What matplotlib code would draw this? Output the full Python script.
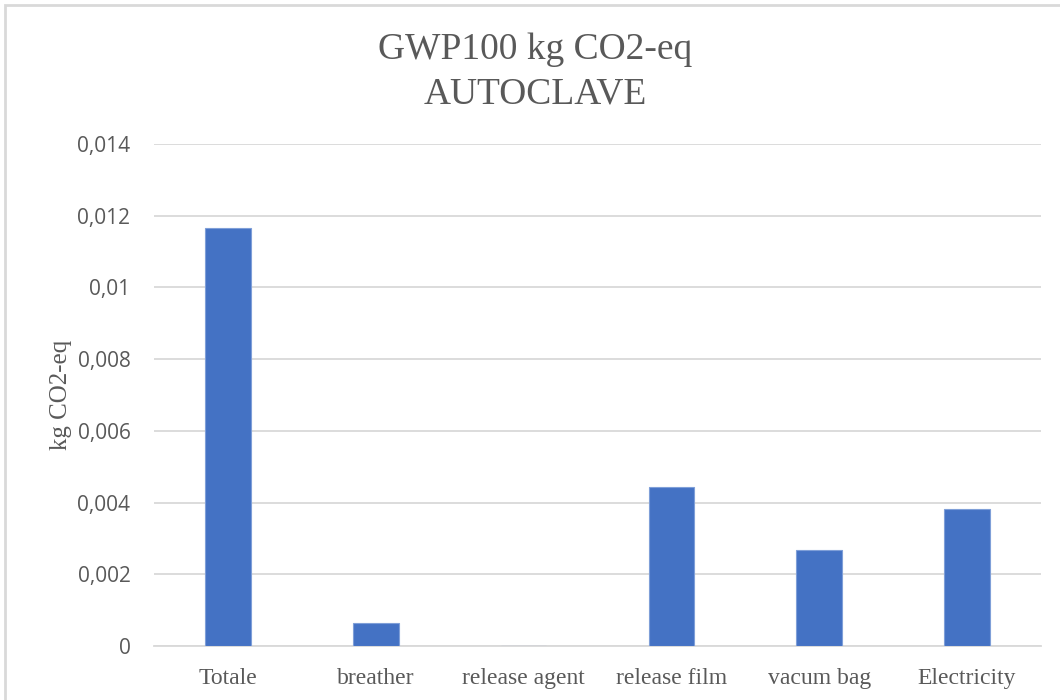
import numpy as np
import matplotlib.pyplot as plt
from matplotlib.patches import Rectangle
from matplotlib.ticker import FuncFormatter

categorie = ["Totale", "breather", "release agent", "release film", "vacum bag", "Electricity"]
valori = [0.01165, 0.00065, 0.0, 0.00444, 0.00268, 0.00381]
y_ticks = [0, 0.002, 0.004, 0.006, 0.008, 0.01, 0.012, 0.014]

grigio = "#595959"
blu = "#4472C4"

fig = plt.figure(figsize=(10.6, 7), dpi=100)
ax = fig.add_axes([154 / 1060, 1 - 646 / 700, (1041 - 154) / 1060, (646 - 144) / 700])

# cornice grigia del grafico
fig.patches.append(Rectangle((5 / 1060, -0.05), 1.1, 1 - 5 / 700 + 0.05,
                             transform=fig.transFigure, fill=False,
                             edgecolor="#D9D9D9", linewidth=2))

x = np.arange(len(categorie))
ax.bar(x, valori, width=0.31, color=blu, edgecolor="#7F9FD8", linewidth=0.8, zorder=3)

ax.set_xlim(-0.5, len(categorie) - 0.5)
ax.set_ylim(0, 0.014)
ax.set_yticks(y_ticks)
ax.yaxis.set_major_formatter(FuncFormatter(lambda v, p: ("%g" % round(v, 3)).replace(".", ",")))
ax.set_xticks(x)
ax.set_xticklabels(categorie, fontsize=17, color=grigio, family="Liberation Serif")
for t in ax.get_yticklabels():
    t.set_fontsize(15)
    t.set_color(grigio)
    t.set_family("Open Sans")

ax.grid(axis="y", color="#D9D9D9", linewidth=1.3, zorder=0)
for s in ["top", "right", "left"]:
    ax.spines[s].set_visible(False)
ax.spines["bottom"].set_color("#D9D9D9")
ax.spines["bottom"].set_linewidth(1.3)
ax.tick_params(axis="y", length=0, pad=17)
ax.tick_params(axis="x", length=0, pad=16)

ax.set_ylabel("kg CO2-eq", fontsize=18, color=grigio, family="Liberation Serif", labelpad=4)
fig.text(535 / 1060, 1 - 72 / 700, "GWP100 kg CO2-eq\nAUTOCLAVE", ha="center", va="center",
         fontsize=27, color=grigio, family="Liberation Serif", linespacing=1.35)

plt.savefig("out.png", dpi=100)
